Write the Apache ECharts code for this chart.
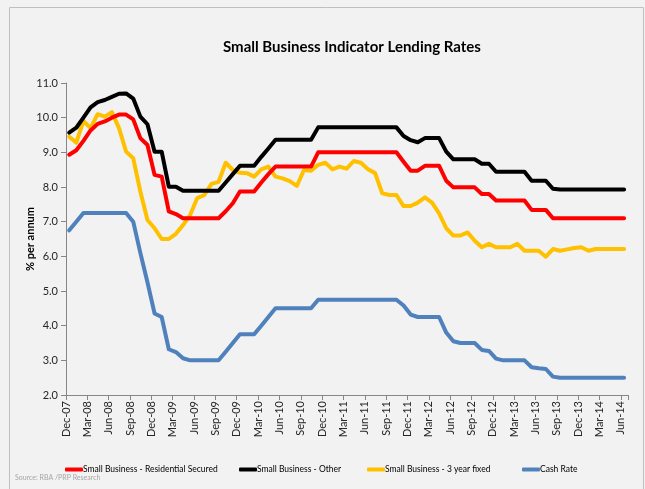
<!DOCTYPE html>
<html>
<head>
<meta charset="utf-8">
<script src="https://cdn.jsdelivr.net/npm/echarts@6/dist/echarts.min.js"></script>
<style>
html,body{margin:0;padding:0;background:#f2f2f2;}
#chart{width:645px;height:489px;}
</style>
</head>
<body>
<div id="chart"></div>
<script>
// Monthly observations, Dec-07 .. Jun-14 (79 months)
const tickLabels = ["Dec-07","Mar-08","Jun-08","Sep-08","Dec-08","Mar-09","Jun-09","Sep-09","Dec-09","Mar-10","Jun-10","Sep-10","Dec-10","Mar-11","Jun-11","Sep-11","Dec-11","Mar-12","Jun-12","Sep-12","Dec-12","Mar-13","Jun-13","Sep-13","Dec-13","Mar-14","Jun-14"];

const residentialSecured = [8.93,9.06,9.33,9.63,9.82,9.89,10.0,10.09,10.09,9.95,
  9.41,9.21,8.35,8.30,7.30,7.22,7.10,7.10,7.10,7.10,
  7.10,7.10,7.30,7.53,7.87,7.87,7.87,8.13,8.37,8.59,
  8.59,8.59,8.59,8.59,8.59,9.0,9.0,9.0,9.0,9.0,
  9.0,9.0,9.0,9.0,9.0,9.0,9.0,8.73,8.47,8.47,
  8.61,8.61,8.61,8.18,7.99,7.99,7.99,7.99,7.80,7.80,
  7.61,7.61,7.61,7.61,7.61,7.34,7.34,7.34,7.10,7.10,
  7.10,7.10,7.10,7.10,7.10,7.10,7.10,7.10,7.10];

const businessOther = [9.57,9.71,10.0,10.3,10.45,10.51,10.60,10.69,10.70,10.55,
  10.03,9.81,9.02,9.02,8.01,8.01,7.89,7.89,7.89,7.89,
  7.89,7.89,8.13,8.37,8.61,8.61,8.61,8.87,9.11,9.36,
  9.36,9.36,9.36,9.36,9.36,9.72,9.72,9.72,9.72,9.72,
  9.72,9.72,9.72,9.72,9.72,9.72,9.72,9.47,9.35,9.29,
  9.41,9.41,9.41,9.02,8.80,8.80,8.80,8.80,8.67,8.67,
  8.44,8.44,8.44,8.44,8.44,8.18,8.18,8.18,7.95,7.93,
  7.93,7.93,7.93,7.93,7.93,7.93,7.93,7.93,7.93];

const threeYearFixed = [9.45,9.28,9.91,9.70,10.10,10.03,10.16,9.70,9.02,8.83,
  7.87,7.05,6.81,6.50,6.50,6.65,6.90,7.19,7.68,7.77,
  8.09,8.15,8.70,8.49,8.41,8.40,8.30,8.51,8.59,8.30,
  8.25,8.17,8.03,8.49,8.47,8.64,8.70,8.51,8.59,8.53,
  8.75,8.70,8.51,8.40,7.82,7.77,7.77,7.45,7.45,7.55,
  7.70,7.55,7.24,6.81,6.60,6.60,6.69,6.45,6.26,6.36,
  6.26,6.26,6.26,6.36,6.16,6.16,6.16,5.99,6.21,6.16,
  6.20,6.24,6.26,6.16,6.21,6.21,6.21,6.21,6.21];

const cashRate = [6.75,7.0,7.25,7.25,7.25,7.25,7.25,7.25,7.25,7.0,
  6.1,5.25,4.35,4.25,3.32,3.24,3.06,3.0,3.0,3.0,
  3.0,3.0,3.25,3.5,3.75,3.75,3.75,4.0,4.25,4.5,
  4.5,4.5,4.5,4.5,4.5,4.75,4.75,4.75,4.75,4.75,
  4.75,4.75,4.75,4.75,4.75,4.75,4.75,4.58,4.32,4.25,
  4.25,4.25,4.25,3.8,3.55,3.5,3.5,3.5,3.3,3.27,
  3.05,3.0,3.0,3.0,3.0,2.8,2.77,2.75,2.53,2.5,
  2.5,2.5,2.5,2.5,2.5,2.5,2.5,2.5,2.5];

const seriesNames = ["Small Business - Residential Secured","Small Business - Other","Small Business - 3 year fixed","Cash Rate"];
const seriesColors = ["#FF0000","#000000","#FFC000","#4F81BD"];
const seriesValues = [residentialSecured, businessOther, threeYearFixed, cashRate];

// observations sit mid-month on a monthly date scale starting at the Dec-07 tick
const MID = 0.45;
const FONT = "Lato, 'Liberation Sans', sans-serif";

const chart = echarts.init(document.getElementById('chart'), null, {renderer:'canvas'});

const legendLefts = [60, 234, 362, 517];

const option = {
  backgroundColor: '#f2f2f2',
  animation: false,
  title: {
    text: 'Small Business Indicator Lending Rates',
    left: 218, top: 35,
    textStyle: {fontFamily: FONT, fontSize: 15, fontWeight: 'bold', color: '#000'}
  },
  grid: {left: 66, right: 17, top: 83, bottom: 94, containLabel: false},
  legend: seriesNames.map((n, k) => ({
    data: [n], left: legendLefts[k], top: 460,
    icon: 'roundRect', itemWidth: 18, itemHeight: 4, itemGap: 0,
    textStyle: {fontFamily: FONT, fontSize: 8.5, color: '#000', padding: [0,0,0,-5]}
  })),
  xAxis: {
    type: 'value', min: 0, max: 79, interval: 3,
    splitLine: {show: false},
    axisLine: {lineStyle: {color: '#868686', width: 1}},
    axisTick: {show: true, length: 5, lineStyle: {color: '#868686'}},
    axisLabel: {
      rotate: 90, margin: 6, fontFamily: FONT, fontSize: 11, color: '#262626',
      formatter: v => (v % 3 === 0 && tickLabels[v/3] !== undefined) ? tickLabels[v/3] : ''
    }
  },
  yAxis: {
    type: 'value', min: 2, max: 11, interval: 1,
    name: '% per annum', nameLocation: 'middle', nameGap: 30, nameRotate: 90,
    nameMoveOverlap: false,
    nameTextStyle: {fontFamily: FONT, fontSize: 11, fontWeight: 'bold', color: '#000'},
    splitLine: {show: false},
    axisLine: {show: true, lineStyle: {color: '#868686', width: 1}},
    axisTick: {show: true, length: 5, lineStyle: {color: '#868686'}},
    axisLabel: {fontFamily: FONT, fontSize: 11, color: '#262626', margin: 8, formatter: v => v.toFixed(1)}
  },
  series: seriesNames.map((n, k) => ({
    name: n, type: 'line', symbol: 'none', smooth: false,
    data: seriesValues[k].map((v, i) => [i + MID, v]),
    lineStyle: {color: seriesColors[k], width: 4, cap: 'round', join: 'round'},
    itemStyle: {color: seriesColors[k]},
    z: 10 - k
  })),
  graphic: [
    {type: 'text', left: 15, top: 474, style: {text: 'Source: RBA /PRP Research', fontFamily: FONT, fontSize: 7, fill: '#a6a6a6'}},
    {type: 'rect', left: 7, top: 5, shape: {width: 634, height: 482}, style: {fill: 'none', stroke: '#bfbfbf', lineWidth: 1}, silent: true}
  ]
};
chart.setOption(option);
</script>
</body>
</html>
